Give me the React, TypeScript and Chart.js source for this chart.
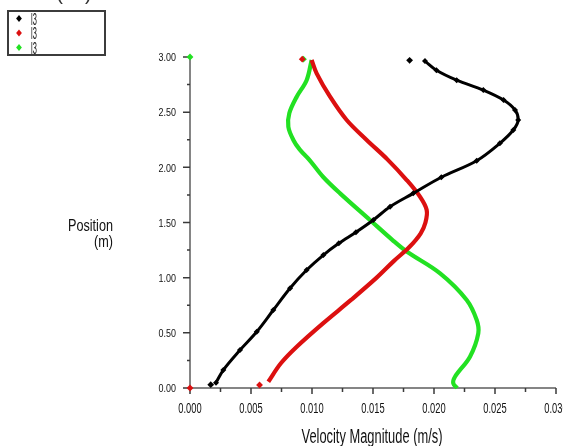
import React, { useEffect, useRef } from "react";
import { Chart, registerables } from "chart.js";

Chart.register(...registerables);

// ---------- data ----------
const xTickValues = [0, 0.005, 0.01, 0.015, 0.02, 0.025, 0.03];
const xTickLabels = ["0.000", "0.005", "0.010", "0.015", "0.020", "0.025", "0.030"];
const yTickValues = [0, 0.5, 1, 1.5, 2, 2.5, 3];
const yTickLabels = ["0.00", "0.50", "1.00", "1.50", "2.00", "2.50", "3.00"];
const xTitle = "Velocity Magnitude (m/s)";
const yTitleLines = ["Position", "(m)"];
const legendLabels = ["l3", "l3", "l3"];
const panelLabel = "( a )";

const blackVel = [0.00213, 0.00273, 0.0041, 0.00547, 0.00683, 0.0082, 0.00956, 0.01093, 0.0122, 0.0136, 0.01503, 0.0164, 0.0183, 0.0206, 0.0235, 0.0254, 0.0265, 0.0269, 0.02664, 0.0257, 0.02404, 0.02186, 0.0202, 0.01926];
const blackPos = [0.048, 0.163, 0.344, 0.51, 0.707, 0.904, 1.069, 1.205, 1.311, 1.412, 1.523, 1.643, 1.764, 1.91, 2.06, 2.218, 2.338, 2.429, 2.52, 2.61, 2.7, 2.79, 2.88, 2.963];

const redVel = [0.00642, 0.00745, 0.00875, 0.0109, 0.0132, 0.0153, 0.0167, 0.018, 0.0189, 0.0193, 0.0194, 0.01885, 0.01776, 0.0162, 0.01448, 0.01284, 0.01148, 0.01038, 0.00997];
const redPos = [0.057, 0.224, 0.374, 0.586, 0.798, 1.0, 1.15, 1.28, 1.4, 1.5, 1.613, 1.734, 1.885, 2.07, 2.248, 2.429, 2.64, 2.852, 2.973];

const greenVel = [0.0219, 0.02158, 0.02172, 0.02295, 0.02363, 0.0235, 0.02268, 0.0205, 0.01776, 0.0166, 0.01475, 0.0123, 0.0109, 0.0098, 0.009, 0.00847, 0.00806, 0.00814, 0.00875, 0.00956, 0.00997];
const greenPos = [0.0, 0.042, 0.102, 0.284, 0.495, 0.616, 0.798, 1.039, 1.237, 1.341, 1.523, 1.764, 1.915, 2.066, 2.16, 2.248, 2.368, 2.49, 2.64, 2.79, 2.973];

const blackDotVel = [0.0017, 0.018];
const blackDotPos = [0.03, 2.97];
const redDotVel = [0, 0.0057, 0.0092];
const redDotPos = [0, 0.027, 2.98];
const greenDotVel = [0, 0.0093];
const greenDotPos = [3.0, 2.98];

const BLACK = "#000000";
const RED = "#dc1010";
const GREEN = "#22e122";

const pts = (xs: number[], ys: number[]) => xs.map((x, i) => ({ x, y: ys[i] }));

const FONT = '"Liberation Sans", Arial, sans-serif';

function drawText(
  ctx: CanvasRenderingContext2D,
  text: string,
  x: number,
  y: number,
  size: number,
  sx: number,
  align: CanvasTextAlign
) {
  ctx.save();
  ctx.font = `${size}px ${FONT}`;
  ctx.translate(x, y);
  ctx.scale(sx, 1);
  ctx.textAlign = align;
  ctx.textBaseline = "alphabetic";
  ctx.fillText(text, 0, 0);
  ctx.restore();
}

function fitScale(ctx: CanvasRenderingContext2D, text: string, size: number, width: number) {
  ctx.save();
  ctx.font = `${size}px ${FONT}`;
  const w = ctx.measureText(text).width;
  ctx.restore();
  return w > 0 ? width / w : 1;
}

function diamond(ctx: CanvasRenderingContext2D, x: number, y: number, r: number, color: string) {
  ctx.save();
  ctx.fillStyle = color;
  ctx.beginPath();
  ctx.moveTo(x, y - r);
  ctx.lineTo(x + r * 0.8, y);
  ctx.lineTo(x, y + r);
  ctx.lineTo(x - r * 0.8, y);
  ctx.closePath();
  ctx.fill();
  ctx.restore();
}

const axesPlugin = {
  id: "fluentAxes",
  beforeDatasetsDraw(chart: any) {
    const ctx: CanvasRenderingContext2D = chart.ctx;
    const xs = chart.scales.x;
    const ys = chart.scales.y;
    const left = xs.getPixelForValue(0);
    const right = xs.getPixelForValue(0.03);
    const bottom = ys.getPixelForValue(0);
    const top = ys.getPixelForValue(3);

    ctx.save();
    ctx.strokeStyle = "#858585";
    ctx.lineWidth = 2;
    ctx.beginPath();
    ctx.moveTo(left, top);
    ctx.lineTo(left, bottom);
    ctx.lineTo(right, bottom);
    ctx.stroke();

    ctx.strokeStyle = "#3a3a3a";
    ctx.lineWidth = 1.5;
    ctx.beginPath();
    xTickValues.forEach((v, i) => {
      const px = xs.getPixelForValue(v);
      ctx.moveTo(px, bottom);
      ctx.lineTo(px, bottom + 6);
      if (i < xTickValues.length - 1) {
        const mp = xs.getPixelForValue((v + xTickValues[i + 1]) / 2);
        ctx.moveTo(mp, bottom);
        ctx.lineTo(mp, bottom + 4);
      }
    });
    yTickValues.forEach((v, i) => {
      const py = ys.getPixelForValue(v);
      ctx.moveTo(left, py);
      ctx.lineTo(left - 7, py);
      if (i < yTickValues.length - 1) {
        const mp = ys.getPixelForValue((v + yTickValues[i + 1]) / 2);
        ctx.moveTo(left, mp);
        ctx.lineTo(left - 3, mp);
      }
    });
    ctx.stroke();

    ctx.fillStyle = "#111111";
    const sxX = fitScale(ctx, "0.000", 15, 23.3);
    xTickValues.forEach((v, i) => {
      drawText(ctx, xTickLabels[i], xs.getPixelForValue(v), bottom + 25, 15, sxX, "center");
    });
    const sxY = fitScale(ctx, "0.50", 11.6, 17.4);
    yTickValues.forEach((v, i) => {
      drawText(ctx, yTickLabels[i], left - 14, ys.getPixelForValue(v) + 4.2, 11.6, sxY, "right");
    });

    const sxT = fitScale(ctx, xTitle, 20, 141);
    drawText(ctx, xTitle, (left + right) / 2 - 1, 443, 20, sxT, "center");
    const sxP = fitScale(ctx, yTitleLines[0], 16.5, 45);
    drawText(ctx, yTitleLines[0], 113, 231, 16.5, sxP, "right");
    drawText(ctx, yTitleLines[1], 113, 247, 16.5, sxP, "right");

    ctx.fillStyle = "#333";
    drawText(ctx, panelLabel, 74, 0, 20, 1, "center");
    ctx.restore();
  },
  afterDraw(chart: any) {
    const ctx: CanvasRenderingContext2D = chart.ctx;
    ctx.save();
    ctx.fillStyle = "#ffffff";
    ctx.fillRect(8, 11, 97, 44);
    ctx.strokeStyle = "#3c3c3c";
    ctx.lineWidth = 2;
    ctx.strokeRect(8, 11, 97, 44);
    const rows = [18.5, 33, 47.5];
    const sxL = fitScale(ctx, "l3", 17, 5.8);
    legendLabels.forEach((lab, i) => {
      const ds = chart.data.datasets[i];
      diamond(ctx, 19, rows[i], 3.6, ds.borderColor as string);
      ctx.fillStyle = "#111";
      drawText(ctx, lab, 31, rows[i] + 6.2, 17, sxL, "left");
    });
    ctx.restore();
  },
};

export default function App() {
  const ref = useRef<HTMLCanvasElement | null>(null);

  useEffect(() => {
    if (!ref.current) return;
    const lineDs = (label: string, xs: number[], ys: number[], color: string, width: number, radius: number) => ({
      label,
      data: pts(xs, ys),
      showLine: true,
      borderColor: color,
      backgroundColor: color,
      borderWidth: width,
      pointStyle: "rectRot" as const,
      pointRadius: radius,
      pointBorderWidth: 0,
      tension: 0.35,
      clip: false as any,
    });
    const dotDs = (xs: number[], ys: number[], color: string) => ({
      label: "",
      data: pts(xs, ys),
      showLine: false,
      borderColor: color,
      backgroundColor: color,
      pointStyle: "rectRot" as const,
      pointRadius: 3.4,
      pointBorderWidth: 0,
      clip: false as any,
    });

    const chart = new Chart(ref.current, {
      type: "scatter",
      data: {
        datasets: [
          lineDs(legendLabels[0], blackVel, blackPos, BLACK, 3, 3),
          lineDs(legendLabels[1], redVel, redPos, RED, 4.2, 0),
          lineDs(legendLabels[2], greenVel, greenPos, GREEN, 4.2, 0),
          dotDs(blackDotVel, blackDotPos, BLACK),
          dotDs(redDotVel, redDotPos, RED),
          dotDs(greenDotVel, greenDotPos, GREEN),
        ] as any,
      },
      options: {
        responsive: false,
        animation: false,
        layout: { padding: { left: 190, right: 7, top: 57, bottom: 58 } },
        scales: {
          x: { type: "linear", min: 0, max: 0.03, display: false },
          y: { type: "linear", min: 0, max: 3, display: false },
        },
        plugins: {
          legend: { display: false },
          tooltip: { enabled: false },
        },
      },
      plugins: [axesPlugin],
    });
    return () => chart.destroy();
  }, []);

  return (
    <div style={{ position: "fixed", left: 0, top: 0, width: 563, height: 446, background: "#fff" }}>
      <canvas ref={ref} width={563} height={446} style={{ display: "block", width: 563, height: 446 }} />
    </div>
  );
}
